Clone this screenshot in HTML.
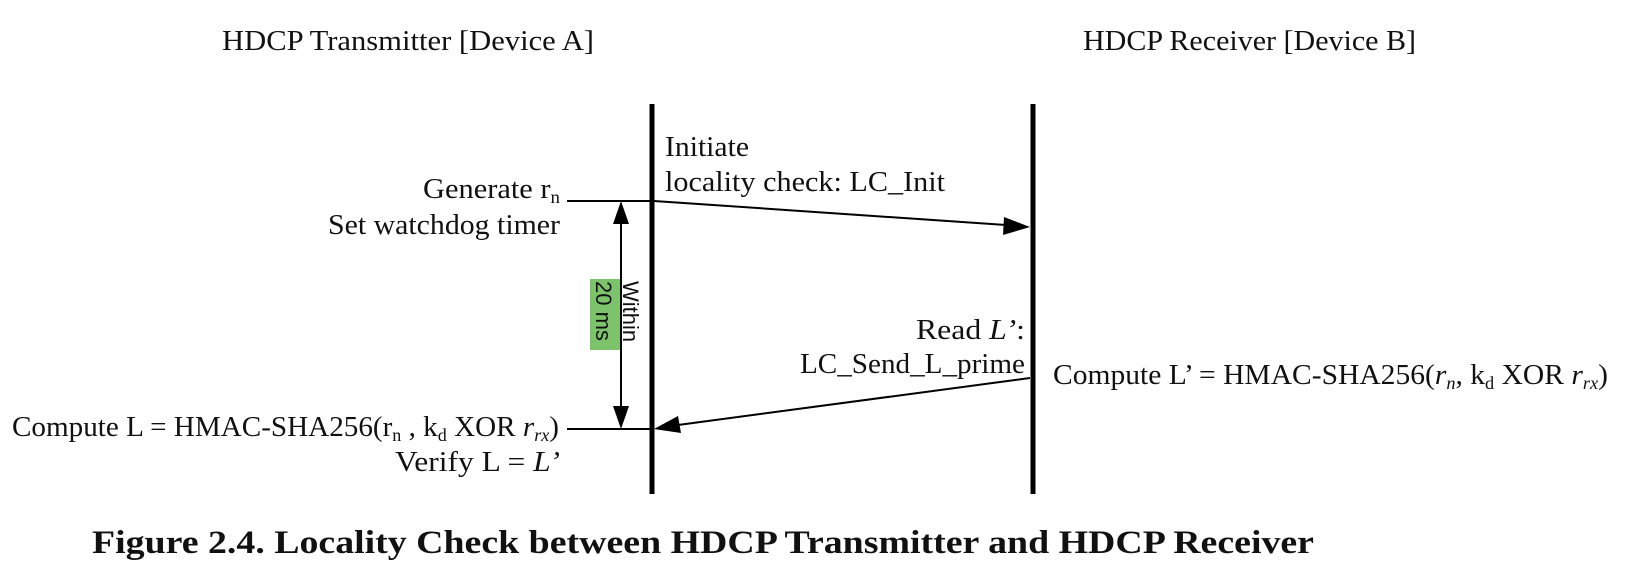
<!DOCTYPE html>
<html><head><style>
html,body{margin:0;padding:0;background:#fff;width:1630px;height:578px;overflow:hidden}
svg{display:block}
text{font-family:"Liberation Serif",serif;font-size:29px;fill:#111}
.s{font-size:18px}
</style></head><body>
<svg width="1630" height="578" viewBox="0 0 1630 578">
<text x="222" y="50" textLength="372" lengthAdjust="spacingAndGlyphs">HDCP Transmitter [Device A]</text>
<text x="1083" y="50" textLength="333" lengthAdjust="spacingAndGlyphs">HDCP Receiver [Device B]</text>
<line x1="652" y1="104" x2="652" y2="494" stroke="#000" stroke-width="5"/>
<line x1="1033" y1="104" x2="1033" y2="494" stroke="#000" stroke-width="5"/>
<line x1="567" y1="201" x2="650" y2="201" stroke="#000" stroke-width="2"/>
<line x1="567" y1="429" x2="650" y2="429" stroke="#000" stroke-width="2"/>
<line x1="621" y1="208" x2="621" y2="422" stroke="#000" stroke-width="2"/>
<path d="M621,201 L613,224 L629,224 Z"/>
<path d="M621,429 L613,406 L629,406 Z"/>
<rect x="590" y="279" width="30" height="71" fill="#7dc36b"/>
<text transform="translate(596,281) rotate(90)" style="font-family:'Liberation Sans',sans-serif;font-size:22px">20 ms</text>
<text transform="translate(623,281) rotate(90)" style="font-family:'Liberation Sans',sans-serif;font-size:22px">Within</text>
<line x1="654" y1="201" x2="1006" y2="225" stroke="#000" stroke-width="2"/>
<path d="M1030,227 L1004,217 L1003,235 Z"/>
<line x1="1030" y1="378" x2="678" y2="425" stroke="#000" stroke-width="2"/>
<path d="M654,429 L678,416 L681,433 Z"/>
<text x="665" y="156" textLength="84" lengthAdjust="spacingAndGlyphs">Initiate</text>
<text x="665" y="191" textLength="280" lengthAdjust="spacingAndGlyphs">locality check: LC_Init</text>
<text x="423" y="198" textLength="137" lengthAdjust="spacingAndGlyphs">Generate r<tspan class="s" dy="5">n</tspan></text>
<text x="560" y="234" text-anchor="end" textLength="232" lengthAdjust="spacingAndGlyphs">Set watchdog timer</text>
<text x="916" y="339" textLength="109" lengthAdjust="spacingAndGlyphs">Read <tspan font-style="italic">L’</tspan>:</text>
<text x="1025" y="373" text-anchor="end" textLength="225" lengthAdjust="spacingAndGlyphs">LC_Send_L_prime</text>
<text x="1053" y="384" textLength="555" lengthAdjust="spacingAndGlyphs">Compute L’ = HMAC-SHA256(<tspan font-style="italic">r</tspan><tspan class="s" font-style="italic" dy="5">n</tspan><tspan dy="-5">, k</tspan><tspan class="s" dy="5">d</tspan><tspan dy="-5"> XOR </tspan><tspan font-style="italic">r</tspan><tspan class="s" font-style="italic" dy="5">rx</tspan><tspan dy="-5">)</tspan></text>
<text x="12" y="436" textLength="547" lengthAdjust="spacingAndGlyphs">Compute L = HMAC-SHA256(r<tspan class="s" dy="5">n</tspan><tspan dy="-5"> , k</tspan><tspan class="s" dy="5">d</tspan><tspan dy="-5"> XOR </tspan><tspan font-style="italic">r</tspan><tspan class="s" font-style="italic" dy="5">rx</tspan><tspan dy="-5">)</tspan></text>
<text x="395" y="471" textLength="165" lengthAdjust="spacingAndGlyphs">Verify L = <tspan font-style="italic">L’</tspan></text>
<text x="92" y="553" textLength="1222" lengthAdjust="spacingAndGlyphs" style="font-size:33px;font-weight:bold">Figure 2.4. Locality Check between HDCP Transmitter and HDCP Receiver</text>
</svg>
</body></html>
